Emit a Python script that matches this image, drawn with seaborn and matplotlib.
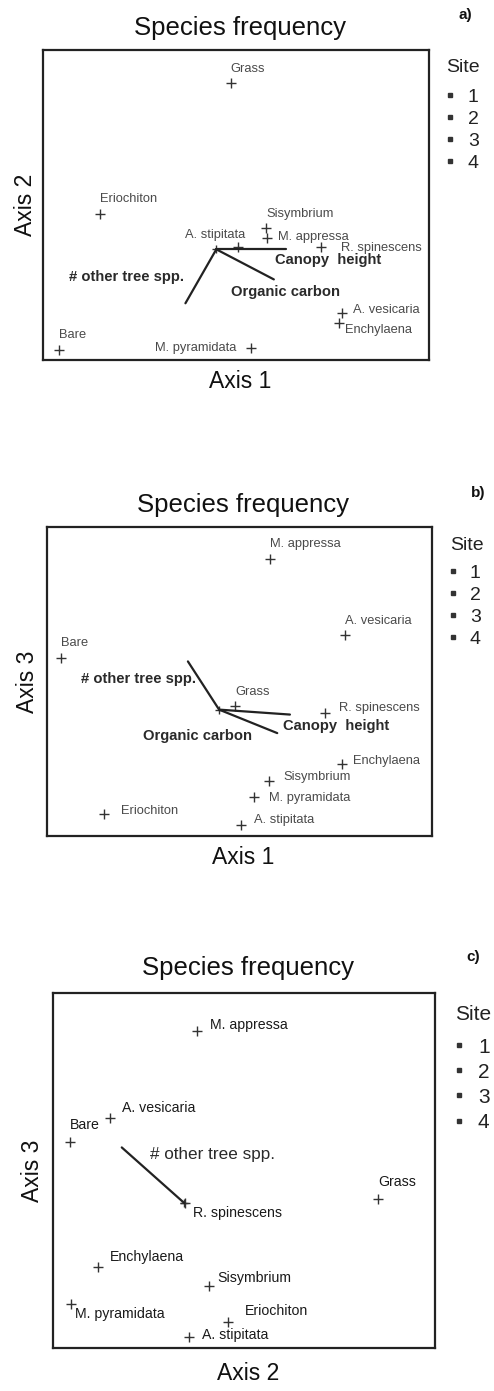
import matplotlib
matplotlib.use("Agg")
import matplotlib.pyplot as plt
from matplotlib.lines import Line2D
import seaborn as sns
import pandas as pd

sns.set_theme(style="white")
plt.rcParams["font.family"] = ["Liberation Sans", "DejaVu Sans"]

W, H = 494, 1391

# -------------------------------
# Data (ordination scores, axes scaled 0-100)
# -------------------------------
species = ["Grass", "Eriochiton", "Sisymbrium", "M. appressa", "A. stipitata",
           "R. spinescens", "A. vesicaria", "Enchylaena", "Bare", "M. pyramidata"]

a_x = [48.8, 14.7, 57.9, 58.0, 50.5, 72.1, 77.5, 76.7, 4.1, 54.0]
a_y = [89.5, 47.1, 42.5, 39.2, 36.3, 36.3, 15.3, 11.8, 3.2, 4.0]

b_x = [48.8, 14.7, 57.7, 57.9, 50.4, 72.2, 77.4, 76.7, 3.7, 53.8]
b_y = [42.0, 7.2, 17.7, 89.5, 3.5, 39.9, 64.9, 23.2, 57.6, 12.6]

c_x = [85.2, 45.8, 40.9, 37.7, 35.5, 34.6, 15.0, 11.8, 4.4, 4.7]
c_y = [42.0, 7.2, 17.6, 89.3, 3.1, 40.8, 64.7, 22.8, 57.9, 12.4]

# environmental vectors (origin + end points)
vectors_ab = ["Canopy  height", "Organic carbon", "# other tree spp."]
a_origin = (44.9, 35.7)
a_vec_x = [63.0, 59.8, 36.9]
a_vec_y = [35.7, 26.0, 18.3]
b_origin = (44.7, 40.9)
b_vec_x = [63.1, 59.8, 36.6]
b_vec_y = [39.3, 33.3, 56.5]

vectors_c = ["# other tree spp."]
c_origin = (34.4, 40.8)
c_vec_x = [18.0]
c_vec_y = [56.5]

sites = ["1", "2", "3", "4"]

# -------------------------------
# Label placement (pixel offsets, ha)
# -------------------------------
a_lab = [(-1, 14, "left"), (0, 15, "left"), (0, 14, "left"), (11, 1, "left"),
         (7, 12, "right"), (20, -1, "left"), (11, 3, "left"), (6, -7, "left"),
         (0, 15, "left"), (-15, 0, "right")]
b_lab = [(0, 14, "left"), (17, 3, "left"), (14, 4, "left"), (0, 15, "left"),
         (13, 5, "left"), (14, 5, "left"), (0, 14, "left"), (11, 3, "left"),
         (0, 15, "left"), (15, -1, "left")]
c_lab = [(0, 17, "left"), (17, 11, "left"), (8, 8, "left"), (13, 6, "left"),
         (13, 2, "left"), (8, -10, "left"), (12, 10, "left"), (12, 10, "left"),
         (0, 17, "left"), (4, -10, "left")]
a_vlab = [(-11, -11, "left"), (-43, -13, "left"), (-1, 26, "right")]
b_vlab = [(-7, -11, "left"), (-25, -3, "right"), (8, -18, "right")]
c_vlab = [(28, -7, "left")]

panels = [
    dict(box=(43, 50, 429, 360), x=a_x, y=a_y, lab=a_lab, origin=a_origin,
         vx=a_vec_x, vy=a_vec_y, vnames=vectors_ab, vlab=a_vlab,
         xlabel="Axis 1", ylabel="Axis 2", letter="a)",
         title_xy=(240, 28), letter_xy=(465, 15), xlab_y=382, ylab_x=25,
         site_xy=(463, 68), leg_xy=(445, 88.3), leg_fs=14, leg_sp=0.22, leg_pad=0.68,
         lab_size=9.3, lab_col="#4a4a4a", vec_w="bold", vec_fs=10.6),
    dict(box=(47, 527, 432, 836), x=b_x, y=b_y, lab=b_lab, origin=b_origin,
         vx=b_vec_x, vy=b_vec_y, vnames=vectors_ab, vlab=b_vlab,
         xlabel="Axis 1", ylabel="Axis 3", letter="b)",
         title_xy=(243, 505), letter_xy=(478, 493), xlab_y=857, ylab_x=27,
         site_xy=(467, 545), leg_xy=(448, 564.3), leg_fs=14, leg_sp=0.22, leg_pad=0.63,
         lab_size=9.3, lab_col="#4a4a4a", vec_w="bold", vec_fs=10.6),
    dict(box=(53, 993, 435, 1348), x=c_x, y=c_y, lab=c_lab, origin=c_origin,
         vx=c_vec_x, vy=c_vec_y, vnames=vectors_c, vlab=c_vlab,
         xlabel="Axis 2", ylabel="Axis 3", letter="c)",
         title_xy=(248, 968), letter_xy=(473, 957), xlab_y=1373, ylab_x=32,
         site_xy=(473, 1015), leg_xy=(453.8, 1037.7), leg_fs=15, leg_sp=0.29, leg_pad=0.66,
         lab_size=10.2, lab_col="#1a1a1a", vec_w="normal", vec_fs=12.3),
]

fig = plt.figure(figsize=(W / 100, H / 100), dpi=100)

for p in panels:
    x0, y0, x1, y1 = p["box"]
    ax = fig.add_axes([x0 / W, 1 - y1 / H, (x1 - x0) / W, (y1 - y0) / H])
    ax.set_xlim(0, 100)
    ax.set_ylim(0, 100)
    ax.set_xticks([])
    ax.set_yticks([])
    for s in ax.spines.values():
        s.set_linewidth(1.6)
        s.set_color("#222222")

    df = pd.DataFrame({"x": p["x"], "y": p["y"], "species": species})
    sns.scatterplot(data=df, x="x", y="y", marker="+", s=45, color="#333333",
                    linewidth=1.0, ax=ax, legend=False)
    # centroid cross at the vector origin
    ax.plot(p["origin"][0], p["origin"][1], marker="+", ms=6, mew=1.0,
            color="#333333", ls="")

    for name, xx, yy, (dx, dy, ha) in zip(species, p["x"], p["y"], p["lab"]):
        ax.annotate(name, (xx, yy), xytext=(dx, dy), textcoords="offset pixels",
                    ha=ha, va="center", fontsize=p["lab_size"], color=p["lab_col"])

    ox, oy = p["origin"]
    for name, ex, ey, (dx, dy, ha) in zip(p["vnames"], p["vx"], p["vy"], p["vlab"]):
        ax.plot([ox, ex], [oy, ey], color="#222222", lw=1.6)
        ax.annotate(name, (ex, ey), xytext=(dx, dy), textcoords="offset pixels",
                    ha=ha, va="center", fontsize=p["vec_fs"], fontweight=p["vec_w"],
                    color="#2a2a2a")

    ax.set_xlabel("")
    ax.set_ylabel("")

    tx, ty = p["title_xy"]
    fig.text(tx / W, 1 - ty / H, "Species frequency", ha="center", va="center",
             fontsize=18.5, color="#111111")
    lx, ly = p["letter_xy"]
    fig.text(lx / W, 1 - ly / H, p["letter"], ha="center", va="center",
             fontsize=11, fontweight="bold", color="#111111")
    fig.text(tx / W, 1 - p["xlab_y"] / H, p["xlabel"], ha="center", va="center",
             fontsize=16.5, color="#111111")
    fig.text(p["ylab_x"] / W, 1 - ((y0 + y1) / 2) / H, p["ylabel"], ha="center",
             va="center", rotation=90, fontsize=16.5, color="#111111")

    # legend
    sx, sy = p["site_xy"]
    fig.text(sx / W, 1 - sy / H, "Site", ha="center", va="center",
             fontsize=p["leg_fs"], color="#222222")
    handles = [Line2D([], [], marker="s", ls="", ms=2.2, color="#333333")
               for _ in sites]
    gx, gy = p["leg_xy"]
    ax.legend(handles, sites, loc="upper left",
              bbox_to_anchor=(gx / W, 1 - gy / H),
              bbox_transform=fig.transFigure, frameon=False,
              fontsize=p["leg_fs"], handlelength=0.5,
              handletextpad=p["leg_pad"], labelspacing=p["leg_sp"], borderpad=0,
              borderaxespad=0, labelcolor="#222222")

fig.savefig("out.png", dpi=100)
